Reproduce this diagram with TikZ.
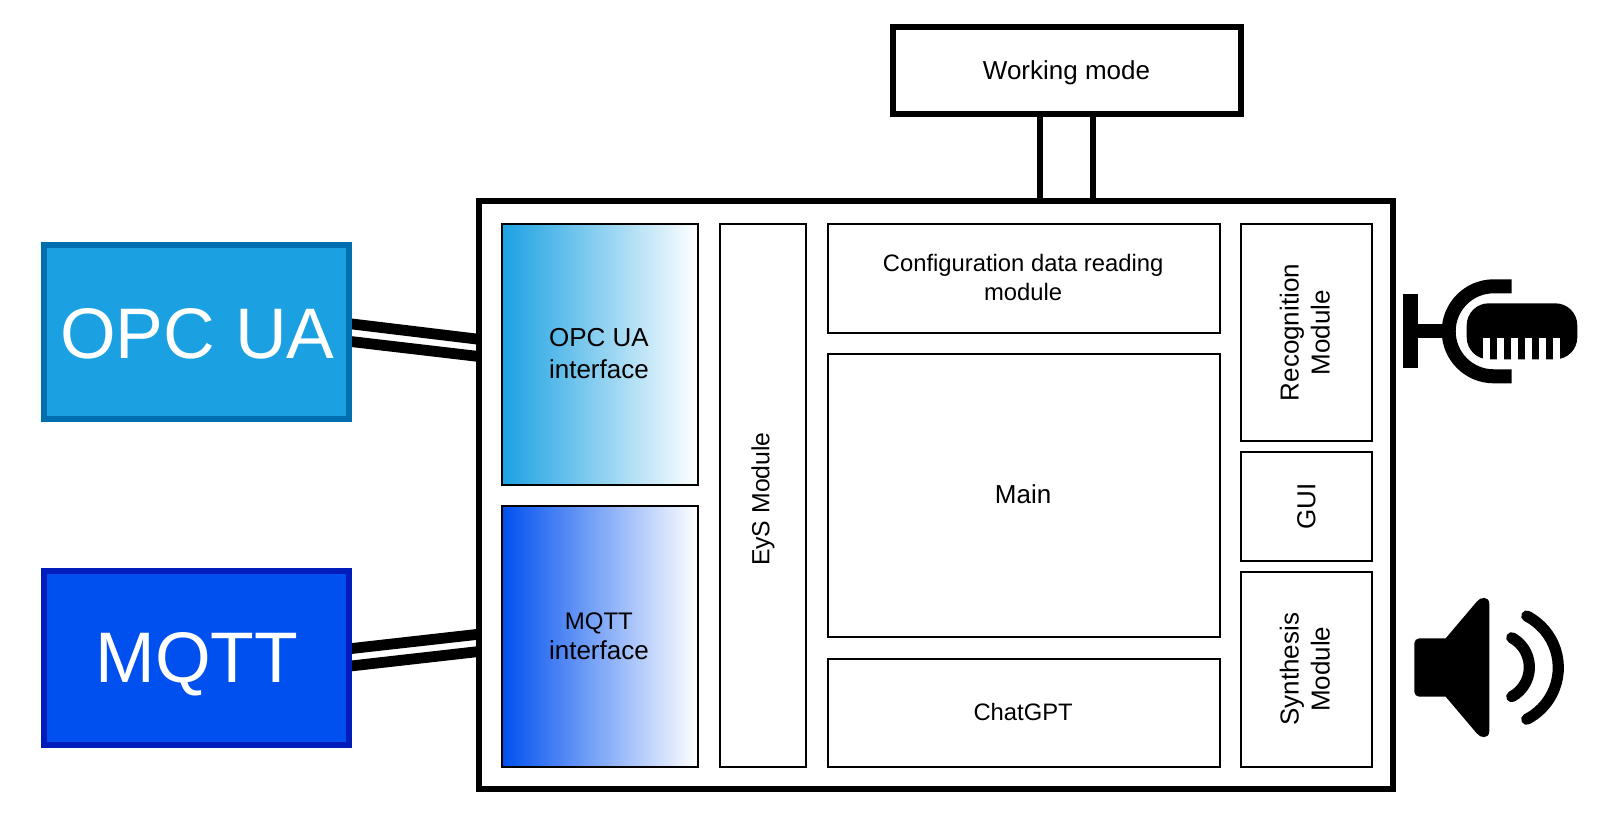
\documentclass[tikz,border=0pt]{standalone}
\usepackage{fontspec}
\setmainfont{Liberation Sans}
\usetikzlibrary{calc,backgrounds}
\definecolor{opcfill}{HTML}{1BA1E2}
\definecolor{opcline}{HTML}{006EAF}
\definecolor{mqttfill}{HTML}{0050EF}
\definecolor{mqttline}{HTML}{001DBC}
\newcommand\fs[2]{\fontsize{#1pt}{#2pt}\selectfont}
\newsavebox\nudgebox
% shift content by dx,dy (pt) without changing the box it occupies
\newcommand\nudge[3]{\sbox\nudgebox{#3}\mbox{\kern#1pt\raisebox{#2pt}[\ht\nudgebox][\dp\nudgebox]{\usebox\nudgebox}\kern-#1pt}}
\newcommand\ctab[2]{\begin{tabular}{@{}c@{}}#1\\#2\end{tabular}}
% box given by its corner pixels (line centres)
\newcommand\bx[7]{%
  \pgfmathsetmacro\bxcx{(#3+#5)/2}%
  \pgfmathsetmacro\bxcy{(#4+#6)/2}%
  \pgfmathsetmacro\bxw{(#5-#3)/2}%
  \pgfmathsetmacro\bxh{(#6-#4)/2}%
  \node[#2,minimum width=\bxw pt,minimum height=\bxh pt] (#1) at (\bxcx,\bxcy) {#7};}
\tikzset{
  anybox/.style={inner sep=0pt,align=center},
  thin box/.style={anybox,draw=black,line width=1pt,font=\fs{13}{15.9}},
  thick box/.style={anybox,draw=black,line width=3pt,font=\fs{13}{15.9}},
  proto/.style={anybox,line width=3pt,text=white,font=\fs{35.8}{40}},
  wire/.style={line width=5.4pt,draw=black},
  link/.style={line width=3pt,draw=black},
}
\begin{document}
\begin{tikzpicture}[x=0.5pt,y=-0.5pt]
\useasboundingbox (0,0) rectangle (1606,814);
% outer boxes
\bx{frame}{thick box}{479.3}{201}{1393}{788.5}{}
\bx{mode}{thick box,fill=white}{892.5}{27}{1240.5}{114}{\nudge{0}{-1}{Working mode}}
\bx{opc}{proto,draw=opcline,fill=opcfill}{44}{245}{349}{419}{\nudge{0.5}{-1}{OPC UA}}
\bx{mqtt}{proto,draw=mqttline,fill=mqttfill}{44}{571}{349}{745}{\nudge{0.2}{-3}{MQTT}}
% inner modules
\bx{opcif}{thin box,left color=opcfill,right color=white}{501.7}{224}{697.7}{484.5}{\nudge{-0.4}{-1}{\ctab{OPC UA}{interface}}}
\bx{mqttif}{thin box,left color=mqttfill,right color=white}{501.7}{506}{697.7}{767}{\nudge{-0.4}{-1}{\fs{13}{15}\ctab{{\fs{12}{15}MQTT}}{interface}}}
\bx{eys}{thin box}{719.5}{224}{806.3}{767}{\rotatebox{90}{\fs{12.4}{14.4}EyS Module\hspace*{3.6pt}}}
\bx{conf}{thin box,font=\fs{11.9}{14.4}}{828.3}{224}{1220}{333}{\nudge{-0.5}{-1}{\ctab{Configuration data reading}{module}}}
\bx{main}{thin box}{828.3}{354.4}{1220}{637}{\nudge{-0.5}{1}{Main}}
\bx{chat}{thin box,font=\fs{11.9}{14.4}}{828.3}{658.6}{1220}{767}{\nudge{-0.5}{0.5}{ChatGPT}}
\bx{rec}{thin box,font=\fs{13}{15.5}}{1241}{224}{1372}{441}{\rotatebox{90}{\nudge{0}{-0.75}{\ctab{Recognition}{Module}}}}
\bx{gui}{thin box}{1241}{452}{1372}{561}{\rotatebox{90}{GUI}}
\bx{syn}{thin box,font=\fs{13}{15.5}}{1241}{571.5}{1372}{767}{\rotatebox{90}{\nudge{0}{-0.75}{\ctab{Synthesis}{Module}}}}
% connectors
\begin{pgfonlayer}{background}
\draw[wire] ($(opc.east)+(-3,-8.4)$) -- ($(frame.west)+(3,-155.4)$);
\draw[wire] ($(opc.east)+(-3,9.3)$) -- ($(frame.west)+(3,-138.2)$);
\draw[wire] ($(mqtt.east)+(-3,-9.2)$) -- ($(frame.west)+(3,139.4)$);
\draw[wire] ($(mqtt.east)+(-3,8.2)$) -- ($(frame.west)+(3,156.7)$);
\end{pgfonlayer}
\draw[link] (mode.south -| 1040,0) -- (frame.north -| 1040,0);
\draw[link] (mode.south -| 1093,0) -- (frame.north -| 1093,0);
% microphone
\fill (1403.3,294.3) rectangle (1417.7,368.3);
\fill (1417.7,324) rectangle (1445,338.3);
\draw[line width=7pt] (1511.7,286.3) -- (1493.7,286.3) arc[start angle=-90,end angle=-270,radius=45] -- (1511.7,376.3);
\fill[rounded corners=11pt] (1466.7,303.3) rectangle (1577.3,359.3);
\foreach \k in {0,...,5}
  \fill[white] ({1483.3+14*\k},338.3) rectangle ({1490.3+14*\k},361);
% speaker
\fill (1445.7,638.3) -- (1476.7,601.7) .. controls (1480.5,596.5) and (1489.3,596) .. (1489.3,604) -- (1489.3,731) .. controls (1489.3,739) and (1480.5,738.5) .. (1476.7,733.3) -- (1445.7,696.7) [rounded corners=2.5pt] -- (1414.3,696.7) -- (1414.3,638.3) [sharp corners] -- cycle;
\draw[line width=5.6pt,line cap=round] (1511.7,637.7) arc[start angle=-61.7,end angle=61.7,radius=33.5];
\draw[line width=5.6pt,line cap=round] (1526.7,616) arc[start angle=-62.9,end angle=62.9,radius=58];
\end{tikzpicture}
\end{document}
